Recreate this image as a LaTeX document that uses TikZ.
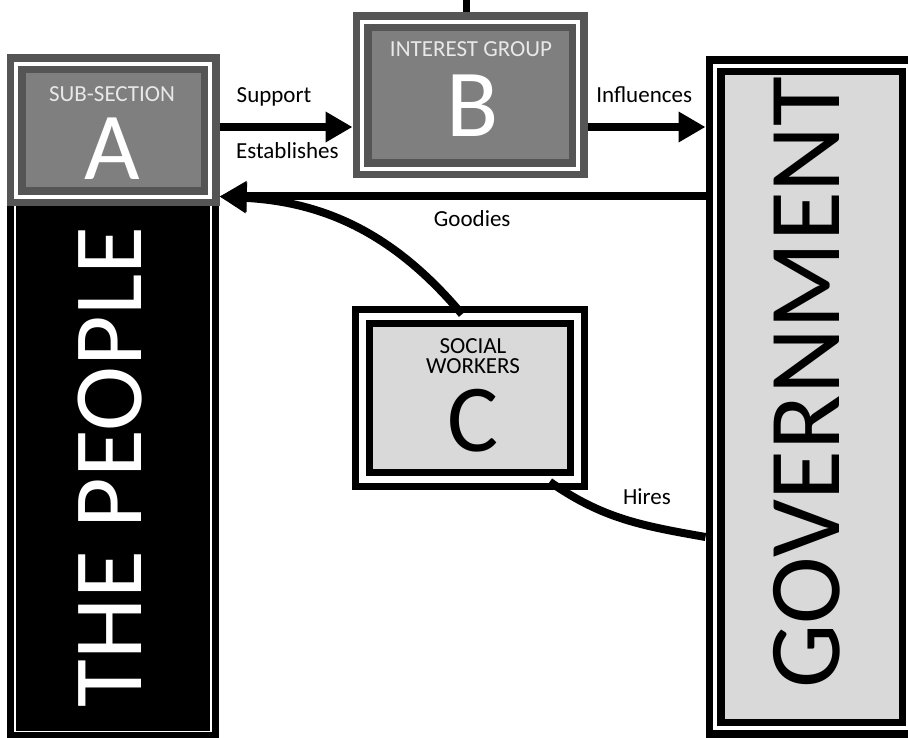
\documentclass[tikz,border=0pt]{standalone}
\usepackage{fontspec}
\setmainfont{Carlito}
\usetikzlibrary{arrows.meta}

\definecolor{bandgray}{HTML}{555555}
\definecolor{midgray}{HTML}{7F7F7F}
\definecolor{palegray}{HTML}{D9D9D9}
\definecolor{capgray}{HTML}{E8E8E8}

\tikzset{
  boxframe/.style={draw=#1, line width=7.5pt, double=white, double distance=4pt,
                   inner sep=0pt, outer sep=9.5pt},
  greybox/.style={boxframe=bandgray, fill=midgray},
  palebox/.style={boxframe=black, fill=palegray},
  boxcap/.style={font=\fontsize{23}{20}\selectfont, anchor=base, inner sep=0pt},
  letter/.style={font=\fontsize{96}{100}\selectfont, anchor=base, inner sep=0pt},
  side/.style={font=\fontsize{#1}{100}\selectfont, rotate=90, inner sep=0pt},
  bigarrow/.style={-{Triangle[length=27pt,width=29pt]}, line width=8pt},
  thickline/.style={line width=8pt},
  lbl/.style={font=\fontsize{23}{28}\selectfont, anchor=base, inner sep=0pt},
}

\begin{document}
\begin{tikzpicture}[x=1pt, y=-1pt]
  \useasboundingbox (0,0) rectangle (908,738);
  \clip (0,0) rectangle (908,738);

  % boxes
  \node[fill=black, draw=black, line width=7pt, double=white, double distance=1.5pt,
        minimum width=196pt, minimum height=541.5pt, inner sep=0pt] (people) at (113,460.75) {};
  \node[greybox, minimum width=194pt, minimum height=133pt] (A) at (113,130.5) {};
  \node[greybox, minimum width=216pt, minimum height=147pt] (B) at (470,95.5) {};
  \node[palebox, line width=7pt, double distance=6.5pt, outer sep=10.25pt,
        minimum width=215pt, minimum height=163pt] (C) at (470,398) {};
  \node[palebox, minimum width=193pt, minimum height=662pt] (gov) at (811.5,397) {};

  % texts
  \node[side=98, text=white] (people-label) at (110,467) {THE PEOPLE};
  \node[side=102] (gov-label) at (806.5,382.5) {GOVERNMENT};
  \node[boxcap, text=capgray] (A-title) at (112,102) {SUB-SECTION};
  \node[letter, text=white]   (A-letter) at (112,180) {A};
  \node[boxcap, text=capgray] (B-title) at (471,57) {INTEREST GROUP};
  \node[letter, text=white]   (B-letter) at (473,137) {B};
  \node[boxcap, align=center] (C-title) at (473,373) {SOCIAL\\WORKERS};
  \node[letter] (C-letter) at (473,451) {C};

  % connectors
  \coordinate (row) at (0,127);
  \coordinate (top) at (466,0);
  \coordinate (goodies-end) at ([yshift=10pt]A.south east);

  \draw[line width=7pt] (B.north -| top) -- (top);
  \draw[bigarrow] (A.east |- row) --
        node[lbl, pos=0.41, yshift=24pt] (support) {Support}
        node[lbl, pos=0.51, yshift=-32pt] (establishes) {Establishes} (B.west |- row);
  \draw[bigarrow] (B.east |- row) --
        node[lbl, pos=0.48, yshift=24pt] (influences) {Influences} (gov.west |- row);
  \draw[bigarrow] (gov.west |- goodies-end) --
        node[lbl, pos=0.48, yshift=-30pt] (goodies) {Goodies} (goodies-end);
  \draw[bigarrow] ([yshift=-8pt]C.95) to[out=130, in=-3] (goodies-end);
  \draw[thickline] ([yshift=8pt]C.-49) to[out=-35, in=170]
        node[lbl, pos=0.55, xshift=16pt, yshift=17pt] (hires) {Hires} ([yshift=-140pt]gov.west);
\end{tikzpicture}
\end{document}
